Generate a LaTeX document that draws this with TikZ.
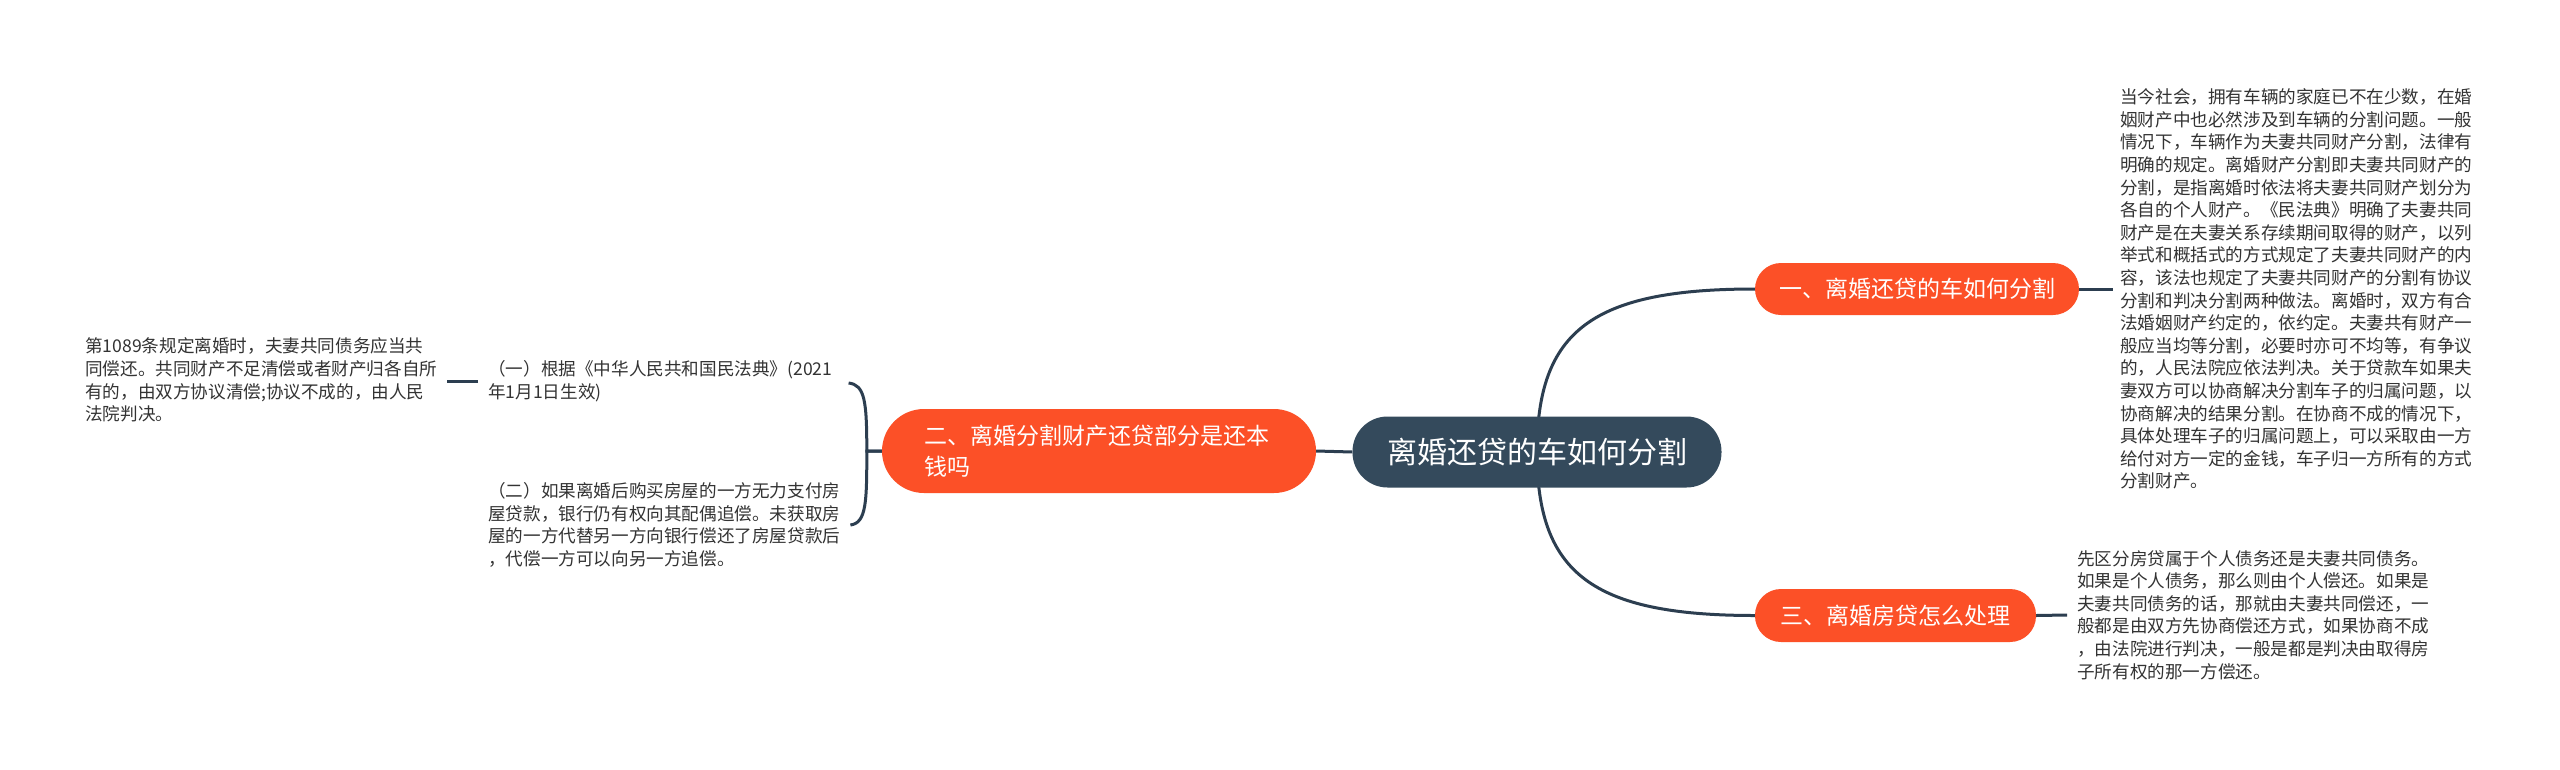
\documentclass[tikz,border=0pt]{standalone}
\usepackage{fontspec}
\setmainfont{Noto Sans CJK SC}
\usetikzlibrary{backgrounds}
\definecolor{orng}{HTML}{FC5027}
\definecolor{navy}{HTML}{344A5C}
\definecolor{linec}{HTML}{2C3E50}
\definecolor{txt}{HTML}{333333}
\begin{document}
\begin{tikzpicture}[x=1pt,y=-1pt,
  root/.style={fill=navy, text=white, rounded corners=35pt, minimum width=369pt, minimum height=71pt, font=\fontsize{30}{36}\selectfont, inner sep=0pt},
  topic/.style={fill=orng, text=white, inner sep=0pt, font=\fontsize{23}{31}\selectfont},
  body/.style={text=txt, align=left, font=\fontsize{17.6}{22.6}\selectfont, inner ysep=0pt, inner xsep=10pt},
  conn/.style={draw=linec, line width=3pt}
]
\useasboundingbox (0,0) rectangle (2560,769);

\node[root] (root) at (1537,452) {离婚还贷的车如何分割};
\node[topic, rounded corners=26pt, minimum width=324pt, minimum height=52pt] (b1) at (1917,289) {一、离婚还贷的车如何分割};
\node[topic, rounded corners=26pt, minimum width=281pt, minimum height=53pt] (b3) at (1895.5,615.5) {三、离婚房贷怎么处理};
\node[topic, rounded corners=42pt, minimum width=434pt, minimum height=84pt, text width=350pt, align=left] (b2) at (1099,451) {二、离婚分割财产还贷部分是还本\\钱吗};

\node[body, anchor=west, inner xsep=7pt] (t1) at (2113,289) {当今社会，拥有车辆的家庭已不在少数，在婚\\姻财产中也必然涉及到车辆的分割问题。一般\\情况下，车辆作为夫妻共同财产分割，法律有\\明确的规定。离婚财产分割即夫妻共同财产的\\分割，是指离婚时依法将夫妻共同财产划分为\\各自的个人财产。《民法典》明确了夫妻共同\\财产是在夫妻关系存续期间取得的财产，以列\\举式和概括式的方式规定了夫妻共同财产的内\\容，该法也规定了夫妻共同财产的分割有协议\\分割和判决分割两种做法。离婚时，双方有合\\法婚姻财产约定的，依约定。夫妻共有财产一\\般应当均等分割，必要时亦可不均等，有争议\\的，人民法院应依法判决。关于贷款车如果夫\\妻双方可以协商解决分割车子的归属问题，以\\协商解决的结果分割。在协商不成的情况下，\\具体处理车子的归属问题上，可以采取由一方\\给付对方一定的金钱，车子归一方所有的方式\\分割财产。};

\node[body, anchor=west] (t3) at (2067,615) {先区分房贷属于个人债务还是夫妻共同债务。\\如果是个人债务，那么则由个人偿还。如果是\\夫妻共同债务的话，那就由夫妻共同偿还，一\\般都是由双方先协商偿还方式，如果协商不成\\，由法院进行判决，一般是都是判决由取得房\\子所有权的那一方偿还。};

\node[body, anchor=west] (c1) at (478,381) {（一）根据《中华人民共和国民法典》(2021\\年1月1日生效)};
\node[body, anchor=west] (c2) at (478,525) {（二）如果离婚后购买房屋的一方无力支付房\\屋贷款，银行仍有权向其配偶追偿。未获取房\\屋的一方代替另一方向银行偿还了房屋贷款后\\，代偿一方可以向另一方追偿。};
\node[body, anchor=west] (g1) at (75,380) {第1089条规定离婚时，夫妻共同债务应当共\\同偿还。共同财产不足清偿或者财产归各自所\\有的，由双方协议清偿;协议不成的，由人民\\法院判决。};

\begin{scope}[on background layer]
\fill[white] (0,0) rectangle (2560,769);
\draw[conn] (root.center) .. controls +(0,-121) and +(-163,0) .. (b1.west);
\draw[conn] (root.center) .. controls +(0,121) and +(-163,0) .. (b3.west);
\draw[conn] (root.west) -- (b2.east);
\draw[conn] (b1.east) -- (t1.west);
\draw[conn] (b3.east) -- (t3.west);
\draw[conn] (b2.west) -- ++(-15,0) .. controls +(0,-51) and +(16,2) .. ([xshift=6pt,yshift=-2pt]c1.east);
\draw[conn] (b2.west) -- ++(-15,0) .. controls +(0,51) and +(16,-2) .. (c2.east);
\draw[conn] (c1.west) -- (g1.east|-c1.west);
\end{scope}
\end{tikzpicture}
\end{document}
